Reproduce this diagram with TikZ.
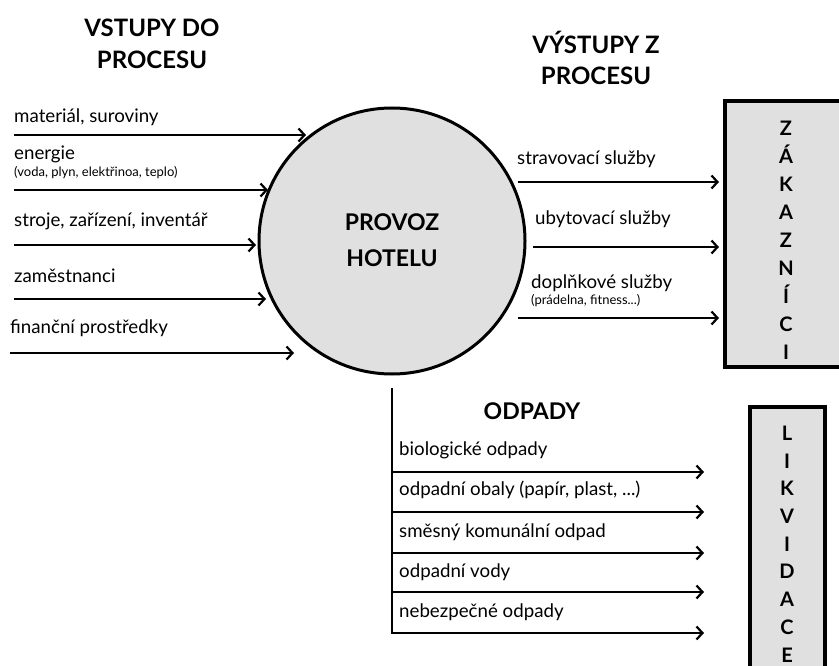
\documentclass[tikz,border=0pt]{standalone}
\usepackage{fontspec}
\setmainfont{Lato}
\usetikzlibrary{arrows.meta}
\definecolor{fillgray}{HTML}{E0E0E0}
\begin{document}
\begin{tikzpicture}[x=1pt,y=-1pt,
  flow/.style={line width=2.3pt,-{Straight Barb[length=6pt,width=13pt,line width=2.2pt]}},
  bar/.style={line width=2.3pt},
  lbl/.style={anchor=base west,inner sep=0pt,font=\fontsize{18.7}{22}\selectfont},
  sm/.style={anchor=base west,inner sep=0pt,font=\fontsize{13}{15}\selectfont},
  head/.style={align=center,inner sep=0pt,font=\fontsize{24}{32}\selectfont\bfseries},
  letters/.style={align=center,inner sep=0pt,font=\fontsize{20}{28}\selectfont\bfseries},
  boxed/.style={draw,line width=3.5pt,fill=fillgray}]
\clip (0,0) rectangle (839,666);

% headings
\node[head] (hin) at (152,44) {VSTUPY DO\\PROCESU};
\node[head,font=\fontsize{24}{31}\selectfont\bfseries] (hout) at (596,58) {VÝSTUPY Z\\PROCESU};

% central process
\node[circle,draw,line width=3pt,fill=fillgray,minimum size=266pt,inner sep=0pt] (hotel) at (392,241) {};
\node[align=center,inner sep=0pt,font=\fontsize{23}{36}\selectfont\bfseries] (hoteltxt) at (392,240) {PROVOZ\\HOTELU};

% customers box
\draw[boxed] (725,101) rectangle (850,367);
\node[letters] (zak) at (786,240) {Z\\Á\\K\\A\\Z\\N\\Í\\C\\I};

% disposal box
\draw[boxed] (750,407) rectangle (825,690);
\node[letters,font=\fontsize{20}{27.7}\selectfont\bfseries] (lik) at (787,544) {L\\I\\K\\V\\I\\D\\A\\C\\E};

% inputs
\coordinate (i1s) at (14,135); \coordinate (i1e) at (306,135);
\coordinate (i2s) at (14,190); \coordinate (i2e) at (268,190);
\coordinate (i3s) at (14,245); \coordinate (i3e) at (256,245);
\coordinate (i4s) at (14,299); \coordinate (i4e) at (266,299);
\coordinate (i5s) at (10,353); \coordinate (i5e) at (294,353);
\foreach \k in {1,...,5} {\draw[flow] (i\k s) -- (i\k e);}
\node[lbl] (t1) at (14,123) {materiál, suroviny};
\node[lbl] (t2) at (14,160) {energie};
\node[sm] (t2b) at (14,177) {(voda, plyn, elektřinoa, teplo)};
\node[lbl] (t3) at (14,227) {stroje, zařízení, inventář};
\node[lbl] (t4) at (14,282) {zaměstnanci};
\node[lbl] (t5) at (10,333) {finanční prostředky};

% outputs
\coordinate (o1s) at (518,182); \coordinate (o1e) at (719,182);
\coordinate (o2s) at (533,247); \coordinate (o2e) at (719,247);
\coordinate (o3s) at (518,318); \coordinate (o3e) at (719,318);
\foreach \k in {1,2,3} {\draw[flow] (o\k s) -- (o\k e);}
\node[lbl] (u1) at (517,165) {stravovací služby};
\node[lbl] (u2) at (535,225) {ubytovací služby};
\node[lbl] (u3) at (531,288) {doplňkové služby};
\node[sm] (u3b) at (531,305) {(prádelna, fitness...)};

% waste
\node[inner sep=0pt,font=\fontsize{23}{26}\selectfont\bfseries] (odp) at (532,411) {ODPADY};
\coordinate (wtop) at (392,388); \coordinate (wbot) at (392,634);
\draw[bar] (wtop) -- (wbot);
\coordinate (w1s) at (392,472); \coordinate (w1e) at (704,472);
\coordinate (w2s) at (392,512); \coordinate (w2e) at (704,512);
\coordinate (w3s) at (392,553); \coordinate (w3e) at (704,553);
\coordinate (w4s) at (392,592); \coordinate (w4e) at (704,592);
\coordinate (w5s) at (392,633); \coordinate (w5e) at (704,633);
\foreach \k in {1,...,5} {\draw[flow] (w\k s) -- (w\k e);}
\node[lbl] (v1) at (399,455) {biologické odpady};
\node[lbl] (v2) at (399,495) {odpadní obaly (papír, plast, ...)};
\node[lbl] (v3) at (399,537) {směsný komunální odpad};
\node[lbl] (v4) at (399,577) {odpadní vody};
\node[lbl] (v5) at (399,617) {nebezpečné odpady};
\end{tikzpicture}
\end{document}
